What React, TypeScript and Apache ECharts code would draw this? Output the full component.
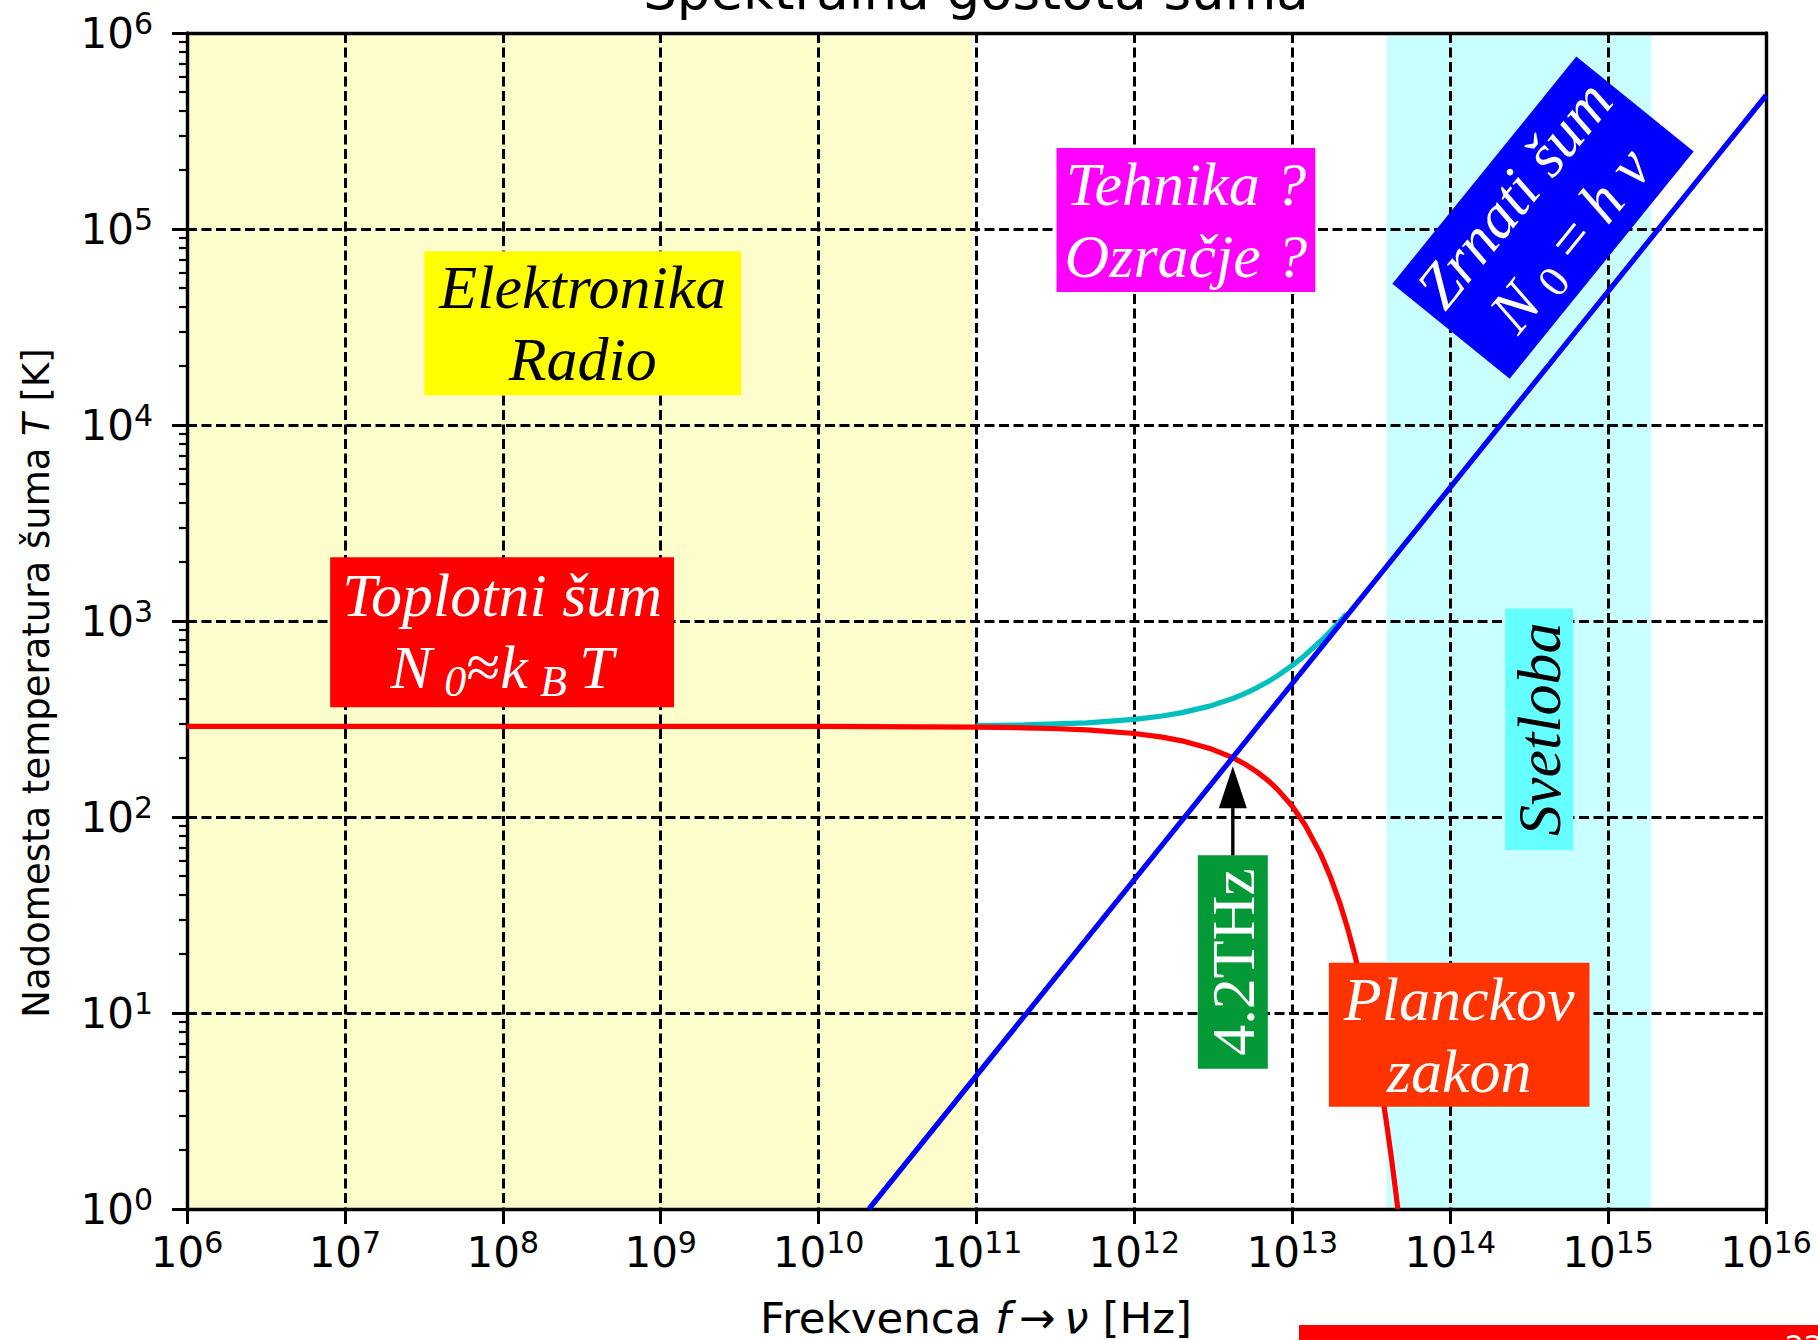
import React, { useEffect, useRef } from 'react';
import * as echarts from 'echarts';

// ---------- data ----------
const chartTitle = 'Spektralna gostota šuma';
const xTitle = 'Frekvenca {i|f}\u2009→\u2009{i|ν} [Hz]';
const yTitle = 'Nadomesta temperatura šuma {i|T} [K]';
const pageNumber = '22';

const xTickValues = [1e6, 1e7, 1e8, 1e9, 1e10, 1e11, 1e12, 1e13, 1e14, 1e15, 1e16];
const yTickValues = [1, 10, 100, 1e3, 1e4, 1e5, 1e6];
const yMinorTickValues = [
  2, 3, 4, 5, 6, 7, 8, 9,
  20, 30, 40, 50, 60, 70, 80, 90,
  200, 300, 400, 500, 600, 700, 800, 900,
  2000, 3000, 4000, 5000, 6000, 7000, 8000, 9000,
  2e4, 3e4, 4e4, 5e4, 6e4, 7e4, 8e4, 9e4,
  2e5, 3e5, 4e5, 5e5, 6e5, 7e5, 8e5, 9e5,
];

// background bands (Hz)
const electronicsBand = [1e6, 9.4e10];
const lightBand = [3.94e13, 1.87e15];

// Planck law (thermal noise), red
const planckFreq = [1e6, 1e8, 1e10, 1e11, 2e11, 3e11, 5e11, 1e12, 1.5e12, 2e12, 3e12, 4.2e12, 5e12, 6e12, 7e12, 8e12, 1e13, 1.2e13, 1.5e13, 1.75e13, 2e13, 2.25e13, 2.5e13, 2.75e13, 3e13, 3.25e13, 3.5e13, 3.75e13, 4e13, 4.25e13, 4.5e13, 4.66e13];
const planckTemp = [290, 290, 289.8, 287.6, 285.2, 282.9, 278.2, 266.7, 255.5, 244.7, 223.9, 200.8, 186.4, 169.5, 153.8, 139.2, 113.4, 91.6, 65.6, 49.1, 36.4, 26.72, 19.47, 14.08, 10.12, 7.23, 5.14, 3.64, 2.57, 1.8, 1.26, 1.0];

// total noise (thermal + quantum), cyan
const totalFreq = [1e11, 2e11, 5e11, 1e12, 1.5e12, 2e12, 3e12, 4.2e12, 5e12, 6e12, 7e12, 8e12, 1e13, 1.2e13, 1.5e13, 1.75e13, 2e13, 2.2e13];
const totalTemp = [292.4, 294.8, 302.2, 314.7, 327.5, 340.7, 367.9, 402.4, 426.4, 457.4, 489.7, 523.1, 593.3, 667.5, 785.5, 888.9, 996.2, 1084.2];

// quantum (shot) noise h*nu/k, blue
const quantumFreq = [2.084e10, 1e16];
const quantumTemp = [1.0, 479900];

// 4.2 THz marker arrow
const arrowFreq = 4.2e12;
const arrowStemTemp = [63.5, 111];
const arrowHeadTemp = 142;

// annotations
const noteFreq = [3.21e8, 2.12e12, 9.9e7, 3.87e14, 3.66e14, 4.2e12, 1.14e14];
const noteTemp = [33000, 111200, 877, 114300, 280, 18.2, 7.75];
const noteText = [
  '{i|Elektronika}\n{i|Radio}',
  '{i|Tehnika ?}\n{i|Ozračje ?}',
  '{i|Toplotni šum}\n{i|N\u2009}{s|0}{r|≈}{i|k\u2009}{s|B}{i|\u2009T}',
  '{i|Zrnati šum}\n{i|N\u2009}{s|0}{r| = }{i|h ν}',
  '{i|Svetloba}',
  '{r|4.2THz}',
  '{i|Planckov}\n{i|zakon}',
];

// ---------- styles ----------
const SANS = 'DejaVu Sans';
const SERIF = 'Liberation Serif';

const noteStyles = [
  { bg: '#ffff00', ink: '#000000', rotate: 0, padding: [0, 15], lh: 72, subItalic: false },
  { bg: '#ff00ff', ink: '#ffffff', rotate: 0, padding: [0, 8], lh: 72, subItalic: false },
  { bg: '#ff0000', ink: '#ffffff', rotate: 0, padding: [2, 12, 4, 12], lh: 72, subItalic: true },
  { bg: '#0000ff', ink: '#ffffff', rotate: 51, padding: [2, 11, 5, 11], lh: 72, subItalic: false },
  { bg: '#66ffff', ink: '#000000', rotate: 90, padding: [0, 14], lh: 68, subItalic: false },
  { bg: '#039937', ink: '#ffffff', rotate: 90, padding: [0, 13], lh: 70, subItalic: false },
  { bg: '#ff3300', ink: '#ffffff', rotate: 0, padding: [0, 15], lh: 72, subItalic: false },
];

function noteRich(ink: string, lh: number, subItalic: boolean) {
  return {
    i: { fontFamily: SERIF, fontStyle: 'italic', fontSize: 62, lineHeight: lh, color: ink },
    r: { fontFamily: SERIF, fontStyle: 'normal', fontSize: 62, lineHeight: lh, color: ink },
    s: { fontFamily: SERIF, fontStyle: subItalic ? 'italic' : 'normal', fontSize: 44, lineHeight: 24, verticalAlign: 'bottom', color: ink },
  };
}

const tickRich = {
  b: { fontFamily: SANS, fontSize: 42, lineHeight: 50, color: '#000' },
  s: { fontFamily: SANS, fontSize: 30, lineHeight: 30, verticalAlign: 'top', color: '#000' },
};
const tickFormatter = (v: number) => `{b|10}{s|${Math.round(Math.log10(v))}}`;

const zip = (a: number[], b: number[]) => a.map((x, i) => [x, b[i]]);

function buildOption(): any {
  const gridLine = { show: true, lineStyle: { color: '#000', width: 3, type: [10, 4.5] } };
  const frameLine = { show: true, lineStyle: { color: '#000', width: 3.4 } };
  const logX = { type: 'log', logBase: 10, min: 1e6, max: 1e16 };
  const logY = { type: 'log', logBase: 10, min: 1, max: 1e6 };
  const curveWidth = 5.2;

  return {
    animation: false,
    backgroundColor: '#ffffff',
    grid: { left: 187, right: 52, top: 33, bottom: 131 },
    xAxis: [
      {
        ...logX, position: 'bottom', z: 3,
        axisLine: frameLine,
        axisTick: { show: true, length: 15, lineStyle: { color: '#000', width: 3 }, customValues: xTickValues },
        axisLabel: { show: true, customValues: xTickValues, margin: 18, formatter: tickFormatter, rich: tickRich },
        splitLine: gridLine,
        minorTick: { show: false },
      },
      {
        ...logX, position: 'top', z: 3,
        axisLine: frameLine, axisTick: { show: false }, axisLabel: { show: false }, splitLine: { show: false },
      },
    ],
    yAxis: [
      {
        ...logY, position: 'left', z: 3,
        axisLine: frameLine,
        axisTick: { show: true, length: 15, lineStyle: { color: '#000', width: 3 }, customValues: yTickValues },
        axisLabel: { show: true, customValues: yTickValues, margin: 34, formatter: tickFormatter, rich: tickRich },
        splitLine: gridLine,
      },
      {
        ...logY, position: 'left', z: 3,
        axisLine: { show: false },
        axisTick: { show: true, length: 8, lineStyle: { color: '#000', width: 2.2 }, customValues: yMinorTickValues },
        axisLabel: { show: false }, splitLine: { show: false },
      },
      {
        ...logY, position: 'right', z: 3,
        axisLine: frameLine, axisTick: { show: false }, axisLabel: { show: false }, splitLine: { show: false },
      },
    ],
    series: [
      {
        type: 'line', name: 'skupni šum', xAxisIndex: 0, yAxisIndex: 0, z: 4,
        data: zip(totalFreq, totalTemp), symbol: 'none', silent: true,
        lineStyle: { color: '#00bfbf', width: curveWidth },
        markArea: {
          silent: true,
          data: [
            [{ xAxis: electronicsBand[0], itemStyle: { color: '#fdfccb', opacity: 1 } }, { xAxis: electronicsBand[1] }],
            [{ xAxis: lightBand[0], itemStyle: { color: '#c9ffff', opacity: 1 } }, { xAxis: lightBand[1] }],
          ],
        },
      },
      {
        type: 'line', name: 'Planck', xAxisIndex: 0, yAxisIndex: 0, z: 4,
        data: zip(planckFreq, planckTemp), symbol: 'none', silent: true,
        lineStyle: { color: '#ff0000', width: curveWidth },
      },
      {
        type: 'line', name: 'hν', xAxisIndex: 0, yAxisIndex: 0, z: 4,
        data: zip(quantumFreq, quantumTemp), symbol: 'none', silent: true,
        lineStyle: { color: '#0000ff', width: curveWidth },
      },
      {
        type: 'line', name: 'arrow', xAxisIndex: 0, yAxisIndex: 0, z: 5,
        data: arrowStemTemp.map((t) => [arrowFreq, t]), symbol: 'none', silent: true,
        lineStyle: { color: '#000', width: 3.4 },
      },
      {
        type: 'scatter', name: 'arrowhead', xAxisIndex: 0, yAxisIndex: 0, z: 5, silent: true,
        data: [[arrowFreq, arrowHeadTemp]], symbol: 'triangle', symbolSize: [28, 42],
        itemStyle: { color: '#000', opacity: 1 },
      },
      {
        type: 'scatter', name: 'notes', xAxisIndex: 0, yAxisIndex: 0, z: 6, silent: true,
        symbolSize: 1, itemStyle: { color: 'rgba(0,0,0,0)', opacity: 1 },
        data: noteText.map((t, i) => ({
          value: [noteFreq[i], noteTemp[i]],
          label: {
            show: true, position: 'inside', formatter: t, align: 'center', verticalAlign: 'middle', opacity: 1,
            rotate: noteStyles[i].rotate, backgroundColor: noteStyles[i].bg, padding: noteStyles[i].padding,
            rich: noteRich(noteStyles[i].ink, noteStyles[i].lh, noteStyles[i].subItalic),
          },
        })),
      },
    ],
    graphic: [
      {
        type: 'text', x: 976, y: -10, z: 10,
        style: { text: chartTitle, fontFamily: SANS, fontSize: 53, fill: '#000', align: 'center', verticalAlign: 'middle' },
      },
      {
        type: 'text', x: 976, y: 1318, z: 10,
        style: {
          text: xTitle, fontFamily: SANS, fontSize: 43.5, lineHeight: 40, fill: '#000', align: 'center', verticalAlign: 'middle',
          rich: { i: { fontFamily: SANS, fontStyle: 'italic', fontSize: 43.5, lineHeight: 40, fill: '#000' } },
        },
      },
      {
        type: 'text', x: 36, y: 683, rotation: Math.PI / 2, z: 10,
        style: {
          text: yTitle, fontFamily: SANS, fontSize: 37, fill: '#000', align: 'center', verticalAlign: 'middle',
          rich: { i: { fontFamily: SANS, fontStyle: 'italic', fontSize: 37, fill: '#000' } },
        },
      },
      {
        type: 'rect', z: 10, shape: { x: 1299, y: 1325, width: 540, height: 40 }, style: { fill: '#ff0000' },
      },
      {
        type: 'text', x: 1785, y: 1331, z: 11,
        style: { text: pageNumber, fontFamily: SANS, fontSize: 30, fill: '#ffffff', align: 'left', verticalAlign: 'top' },
      },
    ],
  };
}

export default function App() {
  const ref = useRef<HTMLDivElement>(null);
  useEffect(() => {
    document.body.style.margin = '0';
    const chart = echarts.init(ref.current as HTMLDivElement, null, { renderer: 'svg' });
    chart.setOption(buildOption());
    return () => chart.dispose();
  }, []);
  return (
    <div
      ref={ref}
      style={{ position: 'absolute', left: 0, top: 0, width: 1818, height: 1340, background: '#ffffff', overflow: 'hidden' }}
    />
  );
}
